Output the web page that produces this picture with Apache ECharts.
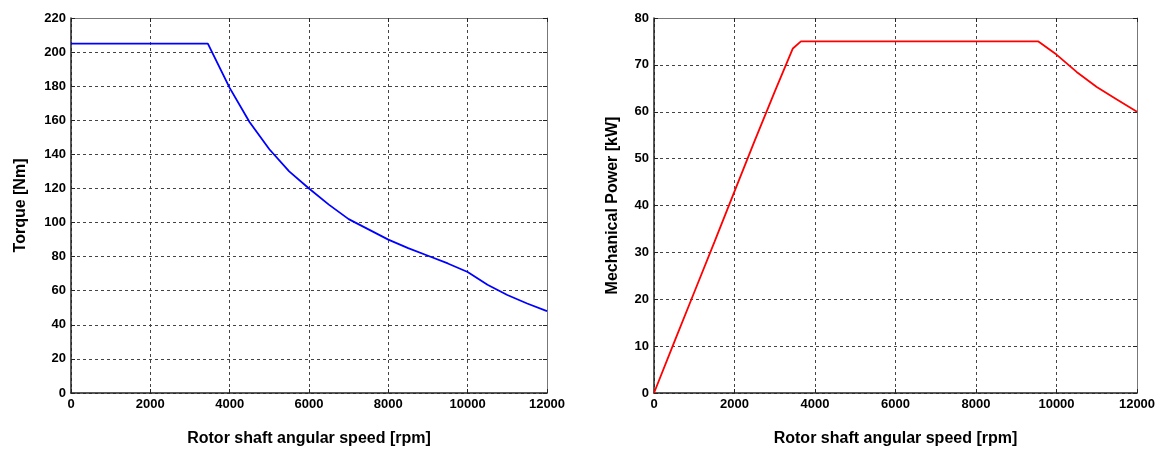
<!DOCTYPE html>
<html>
<head>
<meta charset="utf-8">
<script src="https://cdn.jsdelivr.net/npm/echarts@6/dist/echarts.min.js"></script>
<style>
  html, body { margin: 0; padding: 0; background: #fff; }
  #chart { width: 1161px; height: 452px; }
</style>
</head>
<body>
<div id="chart"></div>
<script>
// torque curve (left)
const torqueSpeed = [0, 3450, 4000, 4500, 5000, 5500, 6000, 6500, 7000, 7500, 8000, 8500, 9000, 9500, 10000, 10500, 11000, 11500, 12000]
const torqueValues = [205, 205, 179, 159, 143, 130, 120, 110.5, 102, 96, 90, 85, 80.5, 76, 71, 63.5, 57.5, 52.5, 48]

// mechanical power curve (right)
const powerSpeed = [0, 500, 1000, 1500, 2000, 2500, 3000, 3450, 3650, 9550, 10000, 10500, 11000, 11500, 12000]
const powerValues = [0, 10.8, 21.5, 32.2, 43, 53.8, 64.3, 73.5, 75, 75, 72.2, 68.5, 65.3, 62.6, 60]

const xTitle = 'Rotor shaft angular speed [rpm]'
const yTitles = ['Torque [Nm]', 'Mechanical Power [kW]']

const labelFont = { color: '#000', fontFamily: 'Liberation Sans, Arial', fontWeight: 'bold', fontSize: 13 }
const nameFont = { color: '#000', fontFamily: 'Liberation Sans, Arial', fontWeight: 'bold', fontSize: 16 }
const gridDash = { show: true, lineStyle: { color: '#444', type: [3, 3], width: 1 } }

const chart = echarts.init(document.getElementById('chart'))

function mainX (gi) {
  return {
    type: 'value', gridIndex: gi, min: 0, max: 12000, interval: 2000,
    name: xTitle, nameLocation: 'middle', nameGap: 38, nameTextStyle: nameFont,
    axisLine: { show: true, onZero: false, lineStyle: { color: '#222', width: 1.5 } },
    axisTick: { show: true, inside: true, length: 4, lineStyle: { color: '#222' } },
    axisLabel: Object.assign({ margin: 5, formatter: v => String(v) }, labelFont),
    splitLine: gridDash
  }
}
function mainY (gi, max, interval, gap) {
  return {
    type: 'value', gridIndex: gi, min: 0, max: max, interval: interval,
    name: yTitles[gi], nameLocation: 'middle', nameGap: gap, nameTextStyle: nameFont,
    axisLine: { show: true, onZero: false, lineStyle: { color: '#222', width: 1.5 } },
    axisTick: { show: true, inside: true, length: 4, lineStyle: { color: '#222' } },
    axisLabel: Object.assign({ margin: 5 }, labelFont),
    splitLine: gridDash
  }
}
// mirror axes for the top / right box edges
function sideAxis (gi, pos, max, interval) {
  return {
    type: 'value', gridIndex: gi, position: pos, min: 0, max: max, interval: interval,
    axisLine: { show: true, onZero: false, lineStyle: { color: '#777', width: 1 } },
    axisTick: { show: true, inside: true, length: 4, lineStyle: { color: '#222' } },
    axisLabel: { show: false },
    splitLine: { show: false }
  }
}

chart.setOption({
  backgroundColor: '#fff',
  animation: false,
  grid: [
    { left: 71, top: 18, width: 476, height: 375 },
    { left: 654, top: 18, width: 483, height: 376 }
  ],
  xAxis: [
    mainX(0),
    mainX(1),
    sideAxis(0, 'top', 12000, 2000),
    sideAxis(1, 'top', 12000, 2000)
  ],
  yAxis: [
    mainY(0, 220, 20, 42),
    mainY(1, 80, 10, 33),
    sideAxis(0, 'right', 220, 20),
    sideAxis(1, 'right', 80, 10)
  ],
  series: [
    {
      type: 'line', xAxisIndex: 0, yAxisIndex: 0, symbol: 'none', smooth: false,
      lineStyle: { color: '#0000ff', width: 1.8 },
      data: torqueSpeed.map((s, i) => [s, torqueValues[i]])
    },
    {
      type: 'line', xAxisIndex: 1, yAxisIndex: 1, symbol: 'none', smooth: false,
      lineStyle: { color: '#ff0000', width: 1.8 },
      data: powerSpeed.map((s, i) => [s, powerValues[i]])
    }
  ]
})
</script>
</body>
</html>
